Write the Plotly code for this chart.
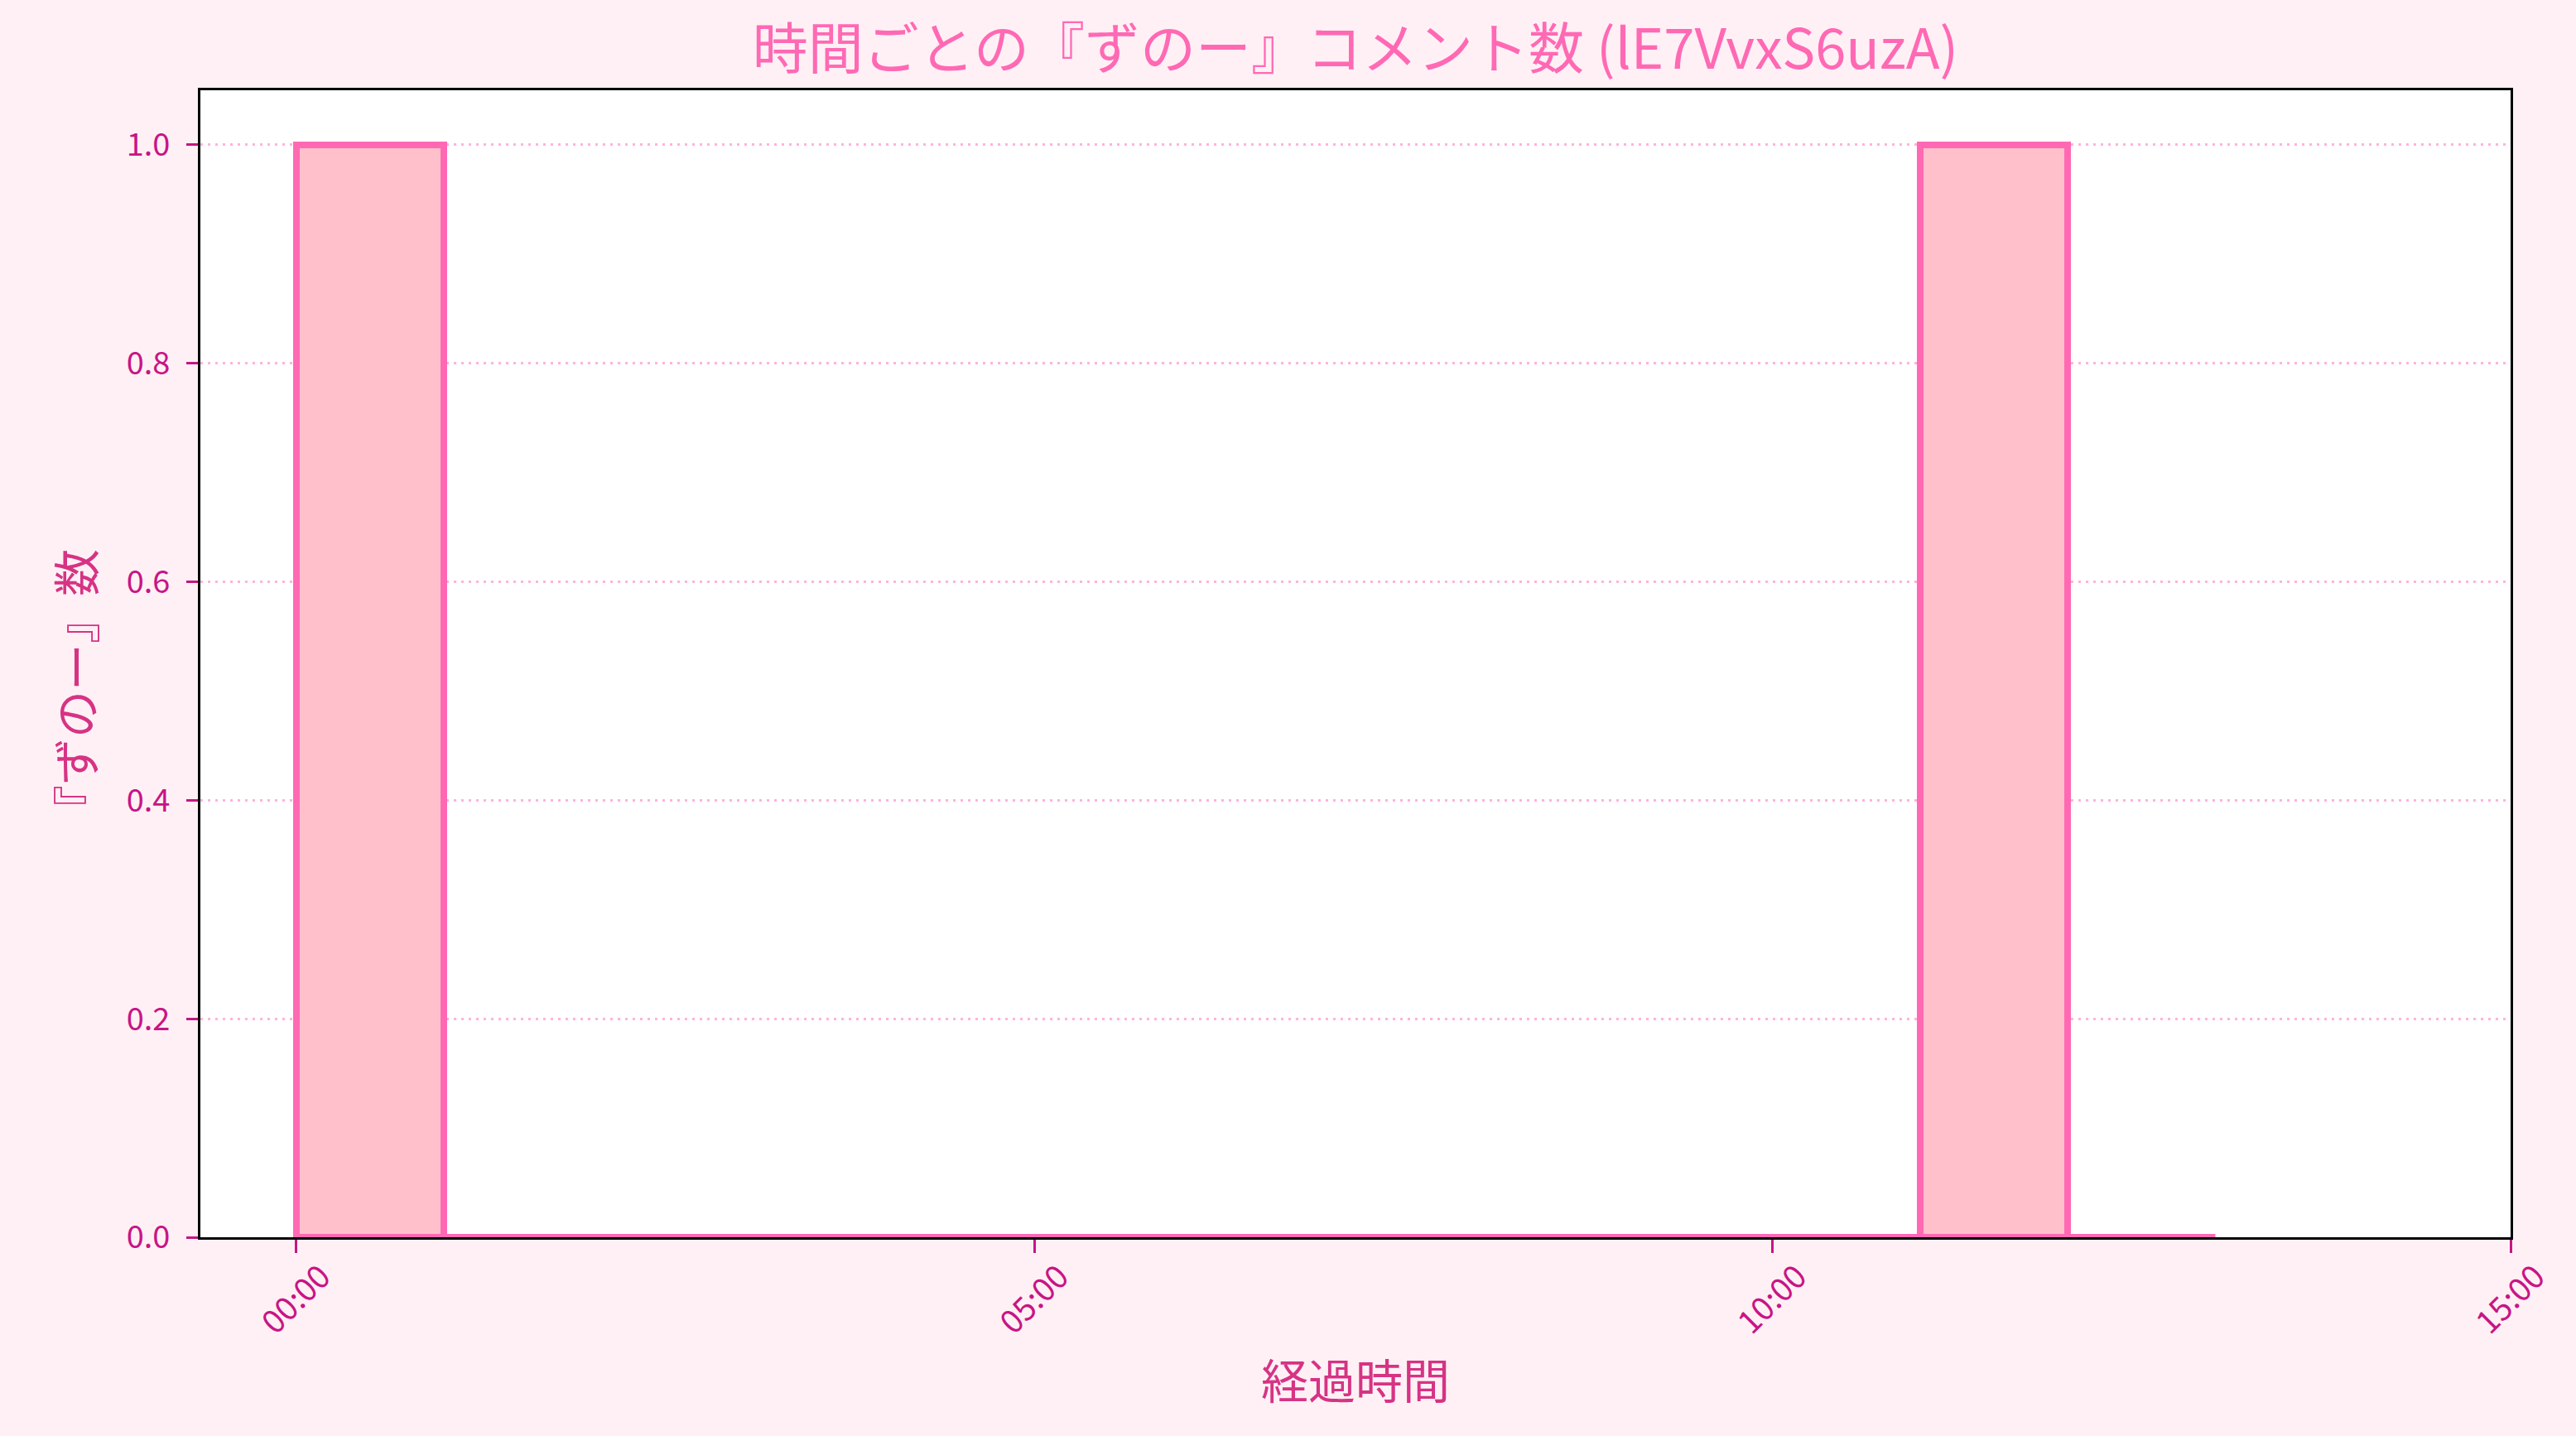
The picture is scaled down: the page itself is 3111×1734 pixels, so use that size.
import plotly.graph_objects as go

# ヒストグラムのビン (分単位) と『ずのー』コメント数
bin_edges = list(range(0, 14))
counts = [1, 0, 0, 0, 0, 0, 0, 0, 0, 0, 0, 1, 0]
tick_minutes = [0, 5, 10, 15]
tick_labels = ["00:00", "05:00", "10:00", "15:00"]
y_ticks = [0.0, 0.2, 0.4, 0.6, 0.8, 1.0]

video_id = "lE7VvxS6uzA"
font_jp = "Noto Sans CJK JP"

centers = [(a + b) / 2 for a, b in zip(bin_edges[:-1], bin_edges[1:])]
widths = [b - a for a, b in zip(bin_edges[:-1], bin_edges[1:])]

fig = go.Figure()

# 高さ0のビンの輪郭 (底辺の線)
fig.add_trace(go.Scatter(
    x=[bin_edges[0], bin_edges[-1]],
    y=[0, 0],
    mode="lines",
    line=dict(color="#ff69b4", width=8),
    hoverinfo="skip",
    showlegend=False,
    cliponaxis=False,
))

fig.add_trace(go.Bar(
    x=centers,
    y=counts,
    width=widths,
    marker=dict(color="#ffc0cb", line=dict(color="#ff69b4", width=8)),
    showlegend=False,
))

fig.update_layout(
    width=3111,
    height=1734,
    margin=dict(l=242, r=79, t=109, b=240),
    paper_bgcolor="#fff0f5",
    plot_bgcolor="white",
    bargap=0,
    font=dict(family=font_jp, color="#c71585"),
    title=dict(
        text=f"時間ごとの『ずのー』コメント数 ({video_id})",
        x=0.5, xref="paper", xanchor="center",
        y=1 - 60 / 1734, yref="container", yanchor="middle",
        font=dict(family=font_jp, size=67, color="#ff69b4"),
    ),
    # y軸ラベル (位置を合わせるため注釈で配置)
    annotations=[dict(
        text="『ずのー』数",
        textangle=-90,
        xref="paper", x=0, xshift=-153, xanchor="center",
        yref="paper", y=(1494 - 834) / 1385, yanchor="middle",
        showarrow=False,
        font=dict(family=font_jp, size=57, color="#d63384"),
    )],
)

fig.update_xaxes(
    range=[-0.65, 15],
    tickvals=tick_minutes,
    ticktext=tick_labels,
    tickangle=-45,
    tickfont=dict(size=39, color="#c71585"),
    ticklabelshift=30,
    ticklabelstandoff=-10,
    ticks="outside", ticklen=16, tickwidth=3, tickcolor="#c71585",
    showline=True, linecolor="black", linewidth=3, mirror=True,
    showgrid=False, zeroline=False,
    title=dict(text="経過時間", font=dict(size=57, color="#d63384"), standoff=30),
)

fig.update_yaxes(
    range=[0, 1.05],
    tickvals=y_ticks,
    tickformat=".1f",
    tickfont=dict(size=38, color="#c71585"),
    ticklabelstandoff=12,
    ticks="outside", ticklen=14, tickwidth=3, tickcolor="#c71585",
    showline=True, linecolor="black", linewidth=3, mirror=True,
    showgrid=True, gridcolor="rgba(255,105,180,0.5)", gridwidth=3, griddash="3px,6px",
    zeroline=False,
)

fig.write_html(
    "out.html",
    config={"displayModeBar": False},
    post_script="document.body.style.margin='0';document.body.style.background='#fff0f5';",
)
